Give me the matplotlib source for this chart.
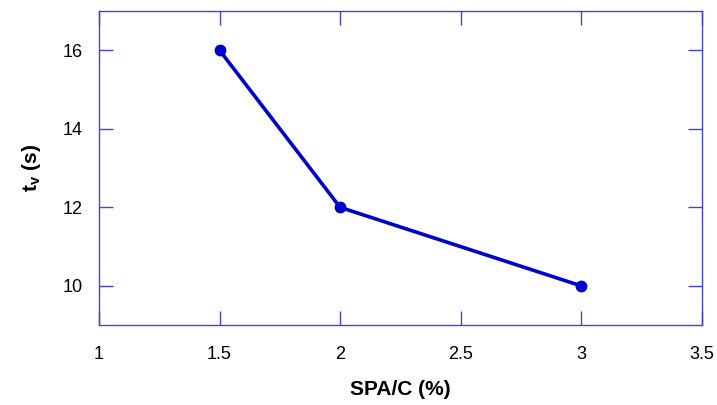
import matplotlib
matplotlib.use('Agg')
import matplotlib.pyplot as plt

plt.rcParams['font.family'] = ['Liberation Sans', 'DejaVu Sans']
plt.rcParams['mathtext.fontset'] = 'custom'
plt.rcParams['mathtext.rm'] = 'Liberation Sans'
plt.rcParams['mathtext.bf'] = 'Liberation Sans:bold'

# data
spa_c = [1.5, 2, 3]
t_v = [16, 12, 10]
x_ticks = [1, 1.5, 2, 2.5, 3, 3.5]
x_tick_labels = ['1', '1.5', '2', '2.5', '3', '3.5']
y_ticks = [10, 12, 14, 16]

fig = plt.figure(figsize=(7.17, 4.05), dpi=100)
ax = fig.add_axes([0.138, 0.197, 0.841, 0.776])

ax.plot(spa_c, t_v, color='#0000cc', linewidth=2.6, marker='o', markersize=7.5)

ax.set_xlim(1, 3.5)
ax.set_ylim(9, 17)
ax.set_xticks(x_ticks)
ax.set_xticklabels(x_tick_labels)
ax.set_yticks(y_ticks)

frame_color = '#4444dd'
for s in ax.spines.values():
    s.set_color(frame_color)
    s.set_linewidth(1.0)
ax.tick_params(direction='in', length=10, width=1.0, color=frame_color,
               top=True, right=True, labelsize=13)
ax.tick_params(axis='x', pad=15)
ax.tick_params(axis='y', pad=12)

ax.set_xlabel('SPA/C (%)', fontsize=15, fontweight='bold', labelpad=12)
ax.set_ylabel(r'$\mathbf{t_v}$ (s)', fontsize=15, fontweight='bold', labelpad=14)

fig.savefig('out.png', dpi=100)
